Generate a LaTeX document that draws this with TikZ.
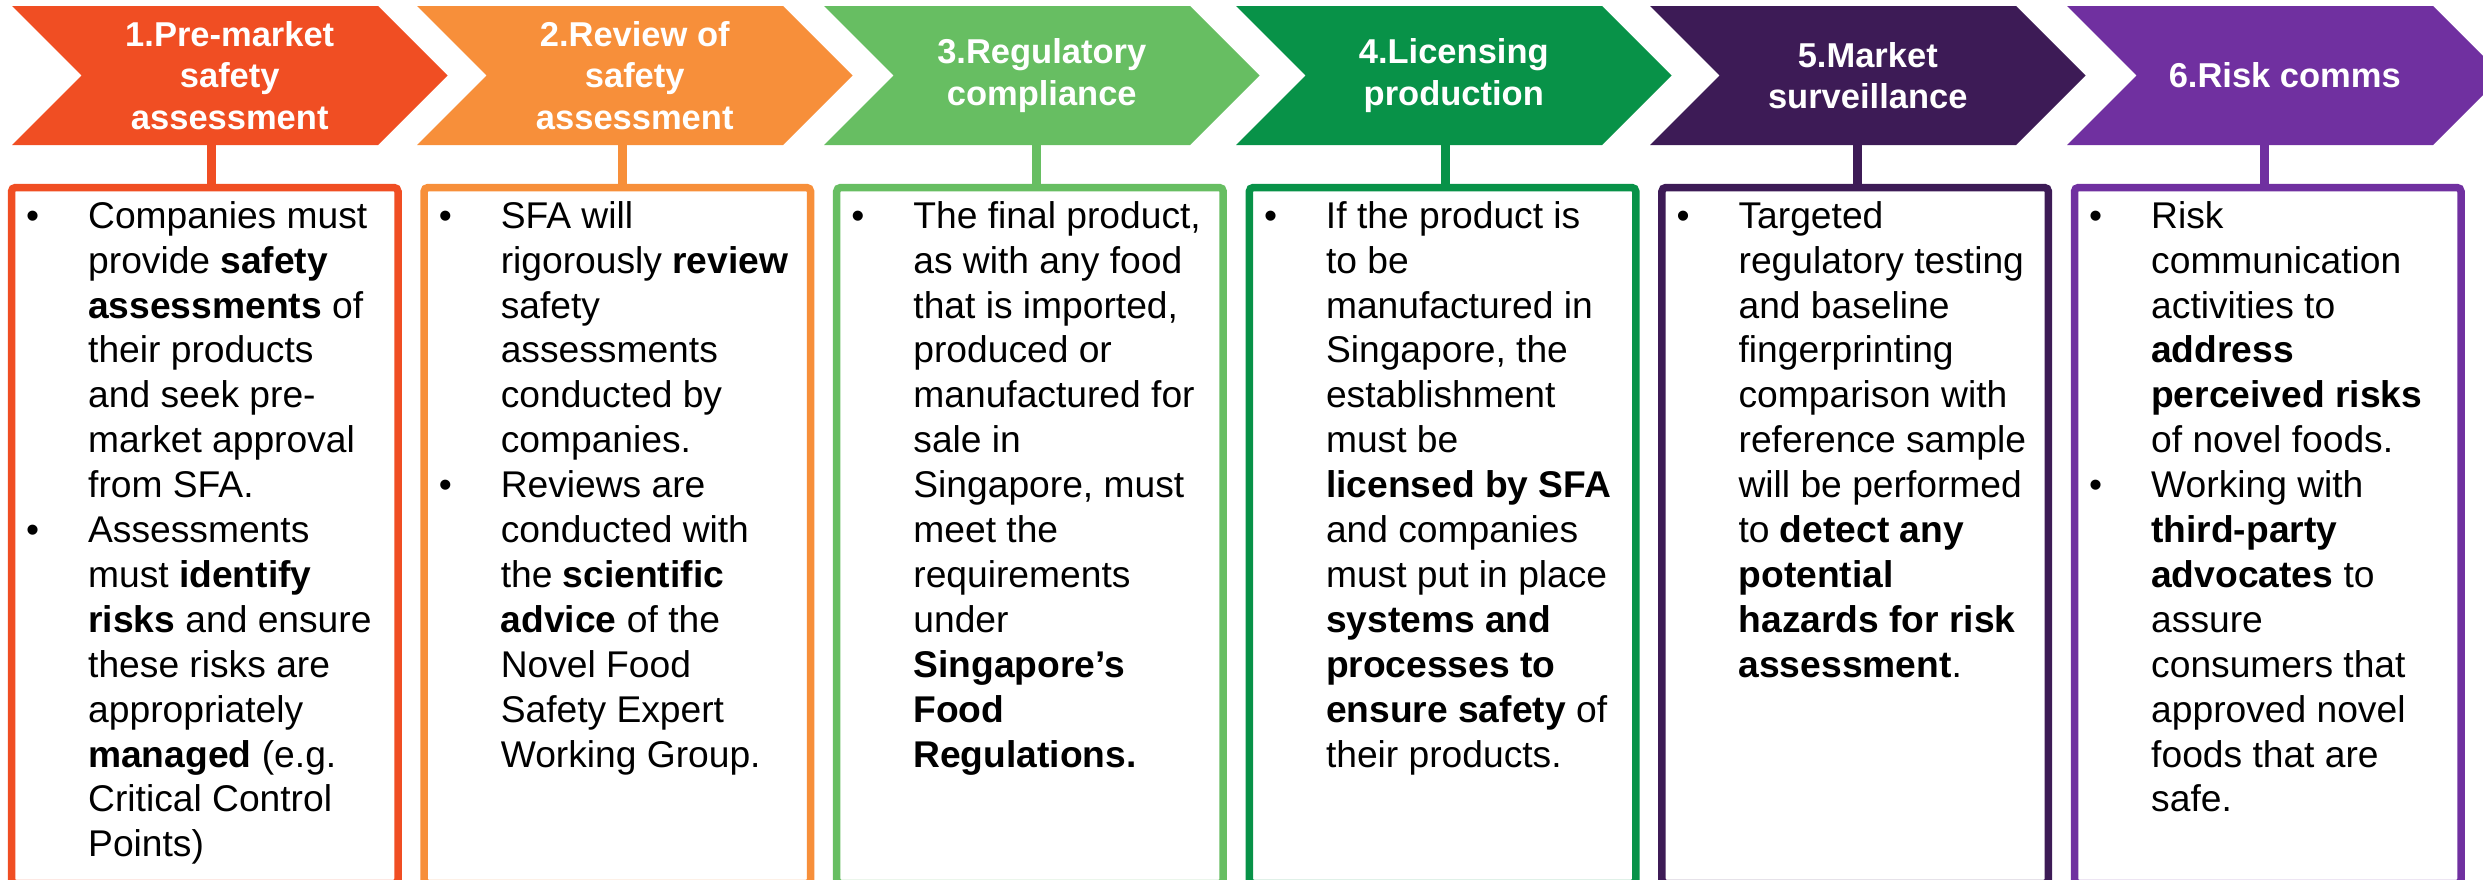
\documentclass[tikz,border=0pt]{standalone}
\usepackage{fontspec}
\setmainfont{Liberation Sans}
\usepackage{array}

% stage colours
\definecolor{stA}{RGB}{240,78,35}
\definecolor{stB}{RGB}{247,143,58}
\definecolor{stC}{RGB}{103,190,98}
\definecolor{stD}{RGB}{8,146,72}
\definecolor{stE}{RGB}{61,27,86}
\definecolor{stF}{RGB}{112,48,160}

\newcommand\bxfont{\fontsize{37.2bp}{44.9bp}\selectfont}
\newcommand\chfont{\fontsize{34.5bp}{41.5bp}\selectfont\bfseries}
\newcommand\bl{\textbullet}
% chevron: left x, colour
\newcommand\chevron[2]{%
  \fill[#2] (#1,6) -- ++(366,0) -- ++(69.5,69.5) -- ++(-69.5,69.5)
    -- ++(-366,0) -- ++(69.5,-69.5) -- cycle;}

\begin{document}
\begin{tikzpicture}[x=1bp,y=-1bp,
  chevtext/.style={text=white, font=\chfont, align=center, inner sep=0},
  panel/.style={draw=#1, line width=7.5bp, rounded corners=4bp,
    minimum width=386.5bp, minimum height=696bp, anchor=north west,
    inner sep=0, fill=white},
  link/.style={draw=#1, line width=9bp},
  bodytext/.style={anchor=north west, inner sep=0, font=\bxfont, text=black}
]
\useasboundingbox (0,0) rectangle (2483,879);

% ---- chevrons ----
\chevron{12}{stA}
\chevron{417}{stB}
\chevron{824}{stC}
\chevron{1236}{stD}
\chevron{1650}{stE}
\chevron{2067}{stF}

\node[chevtext] (h1) at (229.75,75.5) {1.Pre-market\\safety\\assessment};
\node[chevtext] (h2) at (634.75,75.5) {2.Review of\\safety\\assessment};
\node[chevtext] (h3) at (1041.75,75.5) {3.Regulatory\\compliance};
\node[chevtext] (h4) at (1453.75,75.5) {4.Licensing\\production};
\node[chevtext] (h5) at (1867.75,75.5) {5.Market\\surveillance};
\node[chevtext] (h6) at (2284.75,75.5) {6.Risk comms};

% ---- panels ----
\node[panel=stA] (p1) at (7.75,183.75) {};
\node[panel=stB] (p2) at (420.35,183.75) {};
\node[panel=stC] (p3) at (832.95,183.75) {};
\node[panel=stD] (p4) at (1245.55,183.75) {};
\node[panel=stE] (p5) at (1658.15,183.75) {};
\node[panel=stF] (p6) at (2070.75,183.75) {};

% ---- links from chevrons down to panels ----
\coordinate (k1) at (211,145);
\coordinate (k2) at (622,145);
\coordinate (k3) at (1036,145);
\coordinate (k4) at (1445,145);
\coordinate (k5) at (1857,145);
\coordinate (k6) at (2264,145);
\draw[link=stA] (k1) -- (k1 |- p1.north);
\draw[link=stB] (k2) -- (k2 |- p2.north);
\draw[link=stC] (k3) -- (k3 |- p3.north);
\draw[link=stD] (k4) -- (k4 |- p4.north);
\draw[link=stE] (k5) -- (k5 |- p5.north);
\draw[link=stF] (k6) -- (k6 |- p6.north);

% ---- panel texts ----
\node[bodytext] (t1) at (26,196.6) {%
\begin{tabular}{@{}p{62bp}@{}l@{}}
\bl & Companies must\\
 & provide \textbf{safety}\\
 & \textbf{assessments} of\\
 & their products\\
 & and seek pre-\\
 & market approval\\
 & from SFA.\\
\bl & Assessments\\
 & must \textbf{identify}\\
 & \textbf{risks} and ensure\\
 & these risks are\\
 & appropriately\\
 & \textbf{managed} (e.g.\\
 & Critical Control\\
 & Points)
\end{tabular}};

\node[bodytext] (t2) at (438.6,196.6) {%
\begin{tabular}{@{}p{62bp}@{}l@{}}
\bl & SFA will\\
 & rigorously \textbf{review}\\
 & safety\\
 & assessments\\
 & conducted by\\
 & companies.\\
\bl & Reviews are\\
 & conducted with\\
 & the \textbf{scientific}\\
 & \textbf{advice} of the\\
 & Novel Food\\
 & Safety Expert\\
 & Working Group.
\end{tabular}};

\node[bodytext] (t3) at (851.2,196.6) {%
\begin{tabular}{@{}p{62bp}@{}l@{}}
\bl & The final product,\\
 & as with any food\\
 & that is imported,\\
 & produced or\\
 & manufactured for\\
 & sale in\\
 & Singapore, must\\
 & meet the\\
 & requirements\\
 & under\\
 & \textbf{Singapore’s}\\
 & \textbf{Food}\\
 & \textbf{Regulations.}
\end{tabular}};

\node[bodytext] (t4) at (1263.8,196.6) {%
\begin{tabular}{@{}p{62bp}@{}l@{}}
\bl & If the product is\\
 & to be\\
 & manufactured in\\
 & Singapore, the\\
 & establishment\\
 & must be\\
 & \textbf{licensed by SFA}\\
 & and companies\\
 & must put in place\\
 & \textbf{systems and}\\
 & \textbf{processes to}\\
 & \textbf{ensure safety} of\\
 & their products.
\end{tabular}};

\node[bodytext] (t5) at (1676.4,196.6) {%
\begin{tabular}{@{}p{62bp}@{}l@{}}
\bl & Targeted\\
 & regulatory testing\\
 & and baseline\\
 & fingerprinting\\
 & comparison with\\
 & reference sample\\
 & will be performed\\
 & to \textbf{detect any}\\
 & \textbf{potential}\\
 & \textbf{hazards for risk}\\
 & \textbf{assessment}.
\end{tabular}};

\node[bodytext] (t6) at (2089,196.6) {%
\begin{tabular}{@{}p{62bp}@{}l@{}}
\bl & Risk\\
 & communication\\
 & activities to\\
 & \textbf{address}\\
 & \textbf{perceived risks}\\
 & of novel foods.\\
\bl & Working with\\
 & \textbf{third-party}\\
 & \textbf{advocates} to\\
 & assure\\
 & consumers that\\
 & approved novel\\
 & foods that are\\
 & safe.
\end{tabular}};
\end{tikzpicture}
\end{document}
